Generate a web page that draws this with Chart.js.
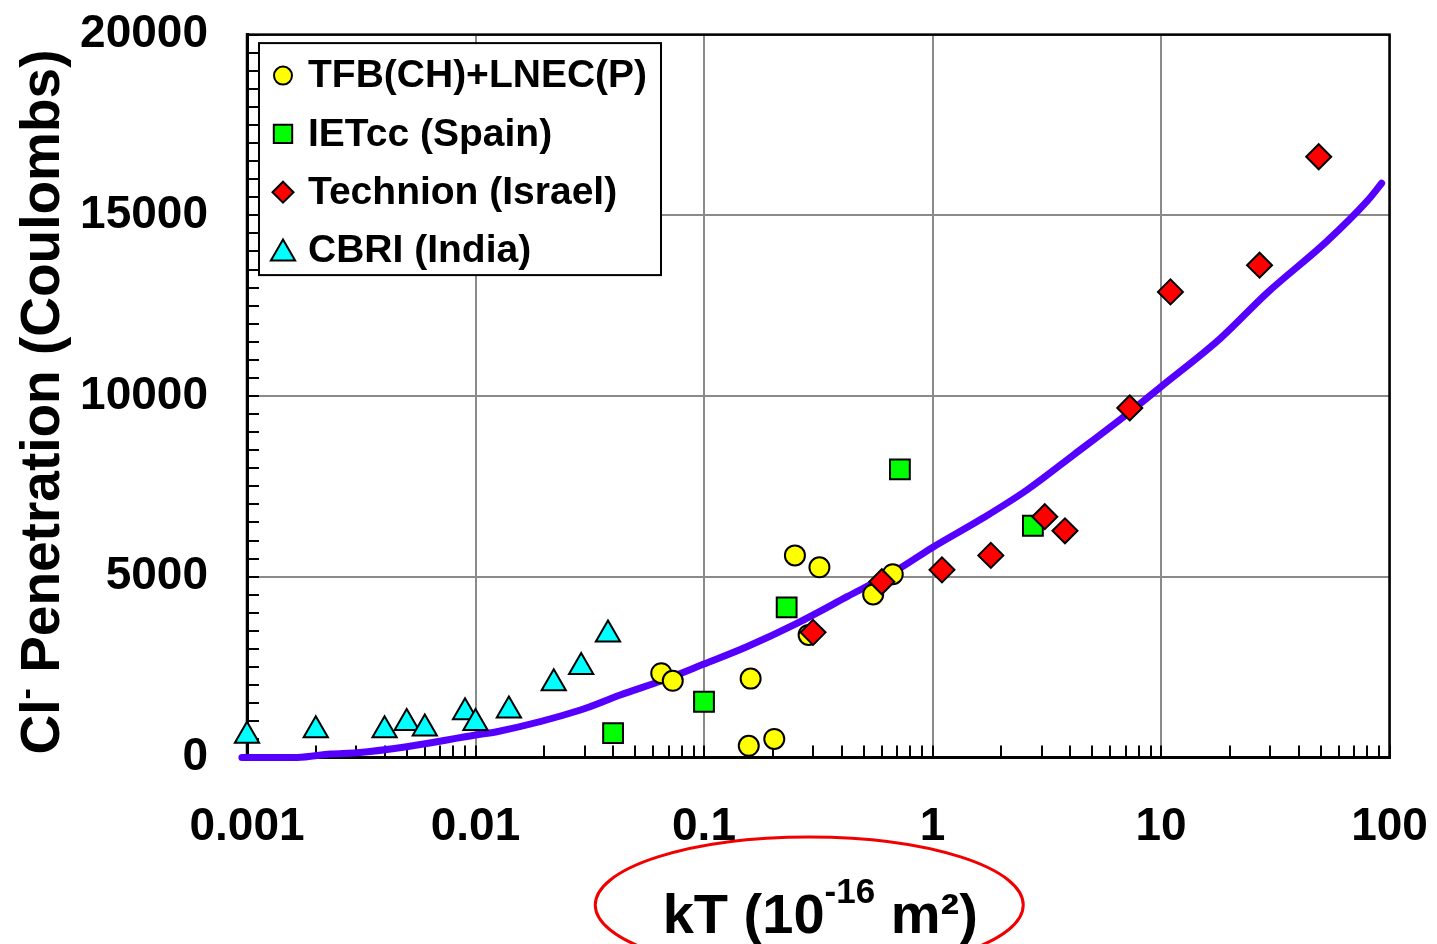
<!DOCTYPE html>
<html><head><meta charset="utf-8">
<script src="https://cdn.jsdelivr.net/npm/chart.js@4.4.1/dist/chart.umd.min.js"></script>
<style>html,body{margin:0;padding:0;background:#fff;}#wrap{width:1437px;height:944px;position:relative;}</style>
</head><body><div id="wrap"><canvas id="c"></canvas></div>
<script>
// ---- data ----
const seriesNames = ['TFB(CH)+LNEC(P)', 'IETcc (Spain)', 'Technion (Israel)', 'CBRI (India)'];

const tfbX = [0.065, 0.073, 0.16, 0.157, 0.203, 0.25, 0.32, 0.287, 0.55, 0.67];
const tfbY = [2330, 2120, 2180, 320, 510, 5590, 5260, 3390, 4510, 5070];

const ietX = [0.04, 0.1, 0.23, 0.72, 2.75];
const ietY = [670, 1540, 4150, 7970, 6410];

const techX = [0.3, 0.6, 1.1, 1.8, 3.1, 3.8, 7.3, 11, 27, 49];
const techY = [3460, 4860, 5190, 5590, 6660, 6270, 9670, 12880, 13620, 16620];

const cbriX = [0.001, 0.002, 0.004, 0.005, 0.006, 0.009, 0.01, 0.014, 0.022, 0.029, 0.038];
const cbriY = [600, 750, 750, 950, 800, 1250, 950, 1300, 2050, 2500, 3400];

const curveX = [0.00095, 0.00166, 0.00232, 0.00303, 0.005, 0.01, 0.0124, 0.0288, 0.043, 0.0666, 0.1, 0.154, 0.255, 0.423, 0.699, 1.0, 1.67, 2.59, 4.14, 7.33, 10, 18.2, 29, 53, 79.4, 92.4];
const curveY = [0, 0, 94, 130, 296, 620, 711, 1312, 1727, 2142, 2584, 3063, 3711, 4447, 5185, 5810, 6630, 7399, 8368, 9566, 10258, 11597, 12841, 14270, 15376, 15885];

const xTickLabels = ['0.001', '0.01', '0.1', '1', '10', '100'];
const yTickLabels = ['0', '5000', '10000', '15000', '20000'];

// ---- styling ----
const FONT = '"Liberation Sans", Arial, Helvetica, sans-serif';
const GRID = '#8a8a8a';
const pts = (xs, ys) => xs.map((x, i) => ({x: x, y: ys[i]}));
const isPow10 = v => { const e = Math.log10(v); return Math.abs(e - Math.round(e)) < 1e-7; };

function markerSet(label, xs, ys, style, bg, r, order) {
  return {label: label, data: pts(xs, ys), pointStyle: style, backgroundColor: bg,
    borderColor: '#000', borderWidth: 2, pointRadius: r, pointHoverRadius: r,
    showLine: false, order: order, clip: false};
}

const datasets = [
  markerSet(seriesNames[0], tfbX, tfbY, 'circle', '#ffff00', 10, 1),
  markerSet(seriesNames[1], ietX, ietY, 'rect', '#00ff00', 14, 2),
  markerSet(seriesNames[2], techX, techY, 'rectRot', '#ff0000', 12.5, 0),
  markerSet(seriesNames[3], cbriX, cbriY, 'triangle', '#00ffff', 14, 3),
  {type: 'line', label: 'fit', data: pts(curveX, curveY), borderColor: '#5500ff', borderWidth: 7,
   pointRadius: 0, cubicInterpolationMode: 'monotone', fill: false, order: 10, clip: false,
   borderCapStyle: 'round', borderJoinStyle: 'round', showLine: true}
];

function drawMarker(ctx, style, r, x, y) {
  if (window.Chart && Chart.helpers && Chart.helpers.drawPoint) {
    Chart.helpers.drawPoint(ctx, {pointStyle: style, radius: r, rotation: 0, borderWidth: 2}, x, y);
    return;
  }
  ctx.beginPath();
  if (style === 'circle') ctx.arc(x, y, r, 0, Math.PI * 2);
  else if (style === 'rect') { const s = r * Math.SQRT1_2; ctx.rect(x - s, y - s, 2 * s, 2 * s); }
  else if (style === 'rectRot') { ctx.moveTo(x - r, y); ctx.lineTo(x, y - r); ctx.lineTo(x + r, y); ctx.lineTo(x, y + r); ctx.closePath(); }
  else { ctx.moveTo(x, y - r); ctx.lineTo(x + r * 0.866, y + r / 2); ctx.lineTo(x - r * 0.866, y + r / 2); ctx.closePath(); }
  ctx.fill(); ctx.stroke();
}

function drawParts(ctx, parts, x0, y0) {
  let total = 0;
  parts.forEach(p => { ctx.font = 'bold ' + p[1] + 'px ' + FONT; p.w = ctx.measureText(p[0]).width; total += p.w; });
  let x = x0 - total / 2;
  parts.forEach(p => { ctx.font = 'bold ' + p[1] + 'px ' + FONT; ctx.fillText(p[0], x, y0 - p[2]); x += p.w; });
}

const framePlugin = {
  id: 'frame',
  beforeDatasetsDraw(chart) {
    const a = chart.chartArea, ctx = chart.ctx;
    ctx.save(); ctx.strokeStyle = '#000'; ctx.lineWidth = 2.5;
    ctx.strokeRect(a.left, a.top, a.right - a.left, a.bottom - a.top);
    ctx.restore();
  }
};

const legendPlugin = {
  id: 'boxLegend',
  afterDatasetsDraw(chart) {
    const a = chart.chartArea, ctx = chart.ctx;
    const bx = a.left + 12, by = a.top + 8.5, bw = 402, bh = 232;
    ctx.save();
    ctx.fillStyle = '#fff'; ctx.fillRect(bx, by, bw, bh);
    ctx.strokeStyle = '#000'; ctx.lineWidth = 2; ctx.strokeRect(bx, by, bw, bh);
    const sizes = [9, 13, 10.5, 14];
    [0, 1, 2, 3].forEach(i => {
      const d = chart.data.datasets[i];
      const cy = by + 32.5 + i * 58.3;
      ctx.fillStyle = d.backgroundColor; ctx.strokeStyle = '#000'; ctx.lineWidth = 2;
      drawMarker(ctx, d.pointStyle, sizes[i], bx + 24, cy + (d.pointStyle === 'triangle' ? 3 : 0));
      ctx.fillStyle = '#000'; ctx.font = 'bold 39px ' + FONT; ctx.textBaseline = 'middle'; ctx.textAlign = 'left';
      ctx.fillText(d.label, bx + 49, cy + 1);
    });
    ctx.restore();
  }
};

const titlePlugin = {
  id: 'titles',
  afterDraw(chart) {
    const a = chart.chartArea, ctx = chart.ctx;
    ctx.save();
    ctx.fillStyle = '#000'; ctx.textBaseline = 'alphabetic'; ctx.textAlign = 'left';
    ctx.save();
    ctx.translate(58.5, (a.top + a.bottom) / 2 + 6);
    ctx.rotate(-Math.PI / 2);
    drawParts(ctx, [['Cl', 55, 0], ['-', 34, 22], [' Penetration (Coulombs)', 55, 0]], 0, 0);
    ctx.restore();
    const cx = (a.left + a.right) / 2 + 2;
    drawParts(ctx, [['kT (10', 56, 0], ['-16', 35, 30], [' m\u00B2)', 56, 0]], cx, a.bottom + 175.3);
    ctx.beginPath();
    ctx.ellipse(cx - 11, a.bottom + 147.6, 214, 68, 0, 0, Math.PI * 2);
    ctx.strokeStyle = '#f20000'; ctx.lineWidth = 3; ctx.stroke();
    ctx.restore();
  }
};

const tickFont = {family: FONT, size: 46, weight: 'bold'};

new Chart(document.getElementById('c'), {
  type: 'scatter',
  data: {datasets: datasets},
  options: {
    responsive: true, maintainAspectRatio: false, animation: false, events: [],
    layout: {padding: 0},
    plugins: {legend: {display: false}, tooltip: {enabled: false}},
    scales: {
      x: {
        type: 'logarithmic', position: 'bottom', min: 0.001, max: 100,
        afterBuildTicks: s => {
          s.ticks = s.ticks.filter(t => {
            const m = t.value / Math.pow(10, Math.floor(Math.log10(t.value) + 1e-9));
            return Math.abs(m - Math.round(m)) < 1e-6;
          });
        },
        afterFit: s => { s.height = 186.6; s.paddingLeft = 0; s.paddingRight = 47.5; },
        border: {display: true, color: '#000', width: 3},
        grid: {
          drawOnChartArea: true, drawTicks: true, tickLength: -12, tickWidth: 2, tickColor: '#000', lineWidth: 2,
          color: c => (c.tick && isPow10(c.tick.value)) ? GRID : 'rgba(0,0,0,0)'
        },
        ticks: {
          autoSkip: false, maxRotation: 0, minRotation: 0, padding: 54, color: '#000', font: tickFont,
          callback: v => isPow10(v) ? xTickLabels[Math.round(Math.log10(v)) + 3] : ''
        }
      },
      y: {
        type: 'linear', position: 'left', min: 0, max: 20000,
        afterFit: s => { s.width = 247; s.paddingTop = 34.6; s.paddingBottom = 0; },
        border: {display: true, color: '#000', width: 3},
        grid: {
          drawOnChartArea: true, drawTicks: true, tickLength: -12, tickWidth: 2, tickColor: '#000', lineWidth: 2,
          color: c => (c.tick && c.tick.value % 5000 === 0) ? GRID : 'rgba(0,0,0,0)'
        },
        ticks: {
          stepSize: 500, autoSkip: false, padding: 51, color: '#000', font: tickFont,
          callback: v => (v % 5000 === 0) ? yTickLabels[v / 5000] : ''
        }
      }
    }
  },
  plugins: [framePlugin, legendPlugin, titlePlugin]
});
</script>
</body></html>
